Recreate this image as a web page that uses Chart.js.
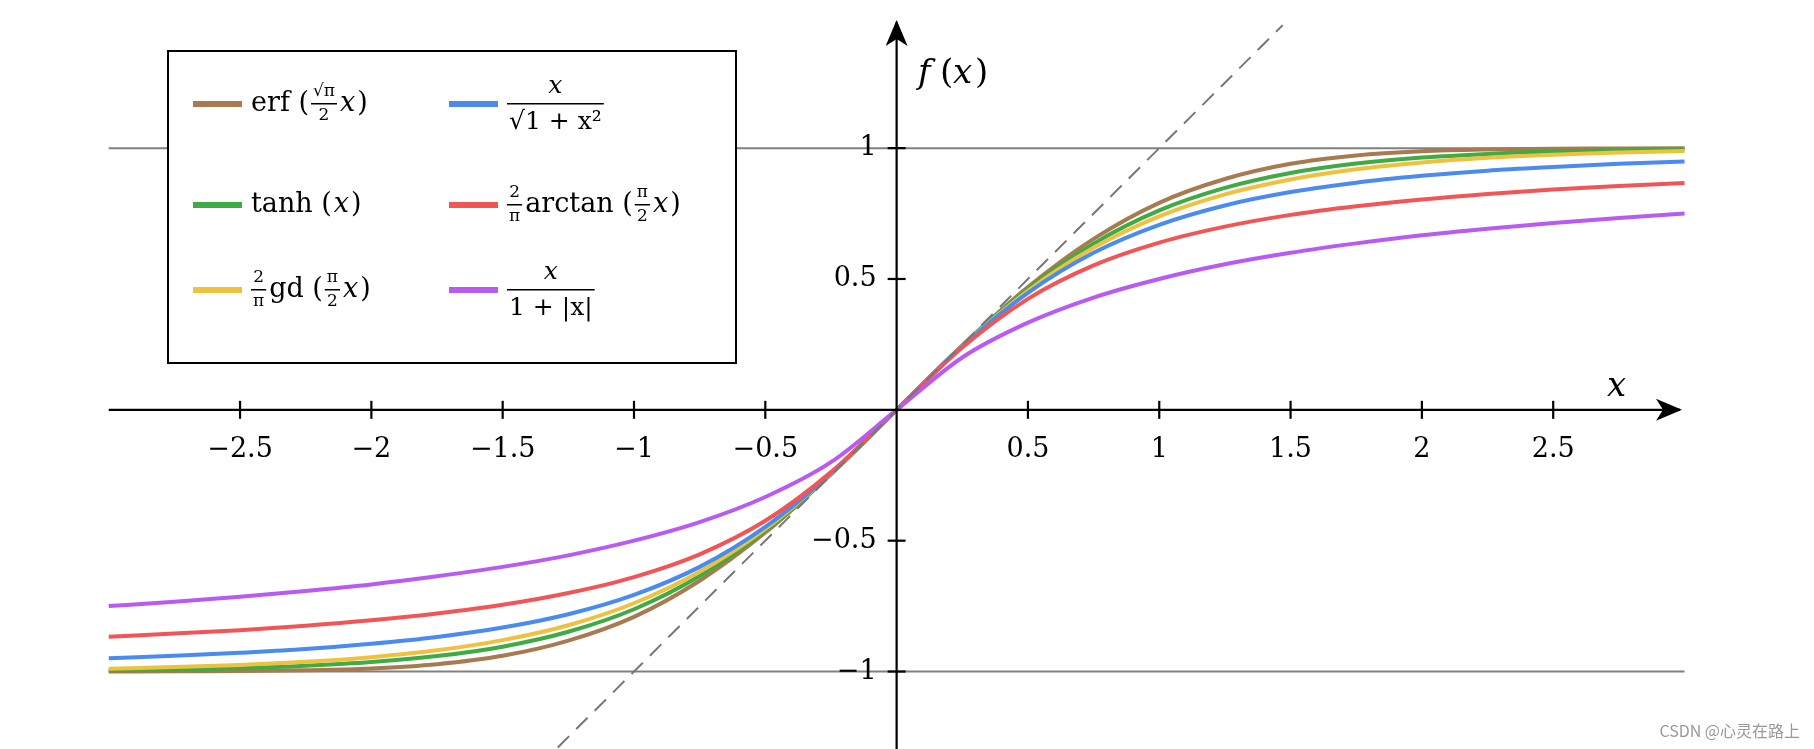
<!DOCTYPE html>
<html>
<head>
<meta charset="utf-8">
<script src="https://cdn.jsdelivr.net/npm/chart.js@4"></script>
<style>
  html, body { margin: 0; padding: 0; background: #fff; }
  #wrap { width: 1814px; height: 749px; position: relative; }
</style>
</head>
<body>
<div id="wrap"><canvas id="c" width="1814" height="749"></canvas></div>
<script>
// x positions of the sampled points
const xs = [-3, -2.75, -2.5, -2.25, -2, -1.75, -1.5, -1.25, -1, -0.75, -0.5, -0.25, 0,
            0.25, 0.5, 0.75, 1, 1.25, 1.5, 1.75, 2, 2.25, 2.5, 2.75, 3];

// values
const erfVals = [-1.0, -0.999, -0.998, -0.995, -0.988, -0.972, -0.94, -0.882, -0.791, -0.653, -0.469, -0.246, 0,
                 0.246, 0.469, 0.653, 0.791, 0.882, 0.94, 0.972, 0.988, 0.995, 0.998, 0.999, 1.0];
const tanhVals = [-0.995, -0.992, -0.987, -0.978, -0.964, -0.941, -0.905, -0.848, -0.762, -0.635, -0.462, -0.245, 0,
                  0.245, 0.462, 0.635, 0.762, 0.848, 0.905, 0.941, 0.964, 0.978, 0.987, 0.992, 0.995];
const gdVals = [-0.989, -0.983, -0.975, -0.963, -0.945, -0.919, -0.88, -0.823, -0.739, -0.619, -0.455, -0.244, 0,
                0.244, 0.455, 0.619, 0.739, 0.823, 0.88, 0.919, 0.945, 0.963, 0.975, 0.983, 0.989];
const sqrtVals = [-0.949, -0.94, -0.928, -0.914, -0.894, -0.868, -0.832, -0.781, -0.707, -0.6, -0.447, -0.243, 0,
                  0.243, 0.447, 0.6, 0.707, 0.781, 0.832, 0.868, 0.894, 0.914, 0.928, 0.94, 0.949];
const atanVals = [-0.867, -0.855, -0.842, -0.825, -0.804, -0.778, -0.745, -0.7, -0.639, -0.552, -0.424, -0.238, 0,
                  0.238, 0.424, 0.552, 0.639, 0.7, 0.745, 0.778, 0.804, 0.825, 0.842, 0.855, 0.867];
const softVals = [-0.75, -0.733, -0.714, -0.692, -0.667, -0.636, -0.6, -0.556, -0.5, -0.429, -0.333, -0.2, 0,
                  0.2, 0.333, 0.429, 0.5, 0.556, 0.6, 0.636, 0.667, 0.692, 0.714, 0.733, 0.75];

const diagX = [-1.29, 1.47];
const xTicks = [-2.5, -2, -1.5, -1, -0.5, 0.5, 1, 1.5, 2, 2.5];
const xTickLabels = ['−2.5', '−2', '−1.5', '−1', '−0.5', '0.5', '1', '1.5', '2', '2.5'];
const yTicks = [-1, -0.5, 0.5, 1];
const yTickLabels = ['−1', '−0.5', '0.5', '1'];

const colors = {
  erf: '#a97a4f', tanh: '#3fab45', gd: '#f0c13f',
  sqrt: '#4a8bf0', atan: '#f25555', soft: '#b95af2'
};

const SERIF = '"DejaVu Serif", "Liberation Serif", serif';

function series(vals, color) {
  return {
    data: xs.map((x, i) => ({ x: x, y: vals[i] })),
    borderColor: color, borderWidth: 4, pointRadius: 0,
    cubicInterpolationMode: 'monotone', fill: false
  };
}

const legendItems = [
  { color: colors.erf, col: 0, row: 0, parts: [{ t: 'erf (' }, { f: ['√π', '2'] }, { t: 'x', i: true }, { t: ')' }] },
  { color: colors.sqrt, col: 1, row: 0, parts: [{ f: ['x', '√1 + x²'], big: true }] },
  { color: colors.tanh, col: 0, row: 1, parts: [{ t: 'tanh (' }, { t: 'x', i: true }, { t: ')' }] },
  { color: colors.atan, col: 1, row: 1, parts: [{ f: ['2', 'π'] }, { t: 'arctan (' }, { f: ['π', '2'] }, { t: 'x', i: true }, { t: ')' }] },
  { color: colors.gd, col: 0, row: 2, parts: [{ f: ['2', 'π'] }, { t: 'gd (' }, { f: ['π', '2'] }, { t: 'x', i: true }, { t: ')' }] },
  { color: colors.soft, col: 1, row: 2, parts: [{ f: ['x', '1 + |x|'], big: true }] }
];

function drawParts(ctx, parts, x, y) {
  ctx.textBaseline = 'middle';
  parts.forEach(p => {
    if (p.t !== undefined) {
      ctx.font = (p.i ? 'italic ' : '') + '27px ' + SERIF;
      ctx.textAlign = 'left';
      ctx.fillText(p.t, x, y);
      x += ctx.measureText(p.t).width + 2;
    } else {
      const size = p.big ? 25 : 17;
      const off = p.big ? 18 : 12;
      ctx.font = size + 'px ' + SERIF;
      const w = Math.max(ctx.measureText(p.f[0]).width, ctx.measureText(p.f[1]).width) + 4;
      ctx.textAlign = 'center';
      ctx.font = (p.f[0] === 'x' ? 'italic ' : '') + size + 'px ' + SERIF;
      ctx.fillText(p.f[0], x + w / 2, y - off);
      ctx.font = size + 'px ' + SERIF;
      ctx.fillText(p.f[1], x + w / 2, y + off);
      ctx.fillRect(x, y - 1, w, 1.5);
      x += w + 3;
    }
  });
}

function arrow(ctx, x, y, dir) {
  ctx.beginPath();
  if (dir === 'right') {
    ctx.moveTo(x, y); ctx.lineTo(x - 26, y - 11); ctx.lineTo(x - 19, y); ctx.lineTo(x - 26, y + 11);
  } else {
    ctx.moveTo(x, y); ctx.lineTo(x - 11, y + 26); ctx.lineTo(x, y + 19); ctx.lineTo(x + 11, y + 26);
  }
  ctx.closePath();
  ctx.fill();
}

const axesPlugin = {
  id: 'axes',
  beforeDatasetsDraw(chart) {
    const ctx = chart.ctx, xs_ = chart.scales.x, ys_ = chart.scales.y;
    ctx.save();
    ctx.strokeStyle = '#808080';
    ctx.lineWidth = 2;
    [1, -1].forEach(v => {
      ctx.beginPath();
      ctx.moveTo(xs_.getPixelForValue(-3), ys_.getPixelForValue(v));
      ctx.lineTo(xs_.getPixelForValue(3), ys_.getPixelForValue(v));
      ctx.stroke();
    });
    ctx.restore();
  },
  afterDatasetsDraw(chart) {
    const ctx = chart.ctx, sx = chart.scales.x, sy = chart.scales.y;
    const x0 = sx.getPixelForValue(0), y0 = sy.getPixelForValue(0);
    ctx.save();
    ctx.strokeStyle = '#000';
    ctx.fillStyle = '#000';
    ctx.lineWidth = 2.2;
    ctx.beginPath();
    ctx.moveTo(sx.getPixelForValue(-3), y0); ctx.lineTo(1680, y0);
    ctx.moveTo(x0, chart.height); ctx.lineTo(x0, 22);
    ctx.stroke();
    arrow(ctx, 1682, y0, 'right');
    arrow(ctx, x0, 20, 'up');

    ctx.font = '27px ' + SERIF;
    ctx.textAlign = 'center';
    ctx.textBaseline = 'top';
    xTicks.forEach((v, i) => {
      const px = sx.getPixelForValue(v);
      ctx.beginPath(); ctx.moveTo(px, y0 - 9); ctx.lineTo(px, y0 + 9); ctx.stroke();
      ctx.fillText(xTickLabels[i], px, y0 + 27);
    });
    ctx.textAlign = 'right';
    ctx.textBaseline = 'middle';
    yTicks.forEach((v, i) => {
      const py = sy.getPixelForValue(v);
      ctx.beginPath(); ctx.moveTo(x0 - 9, py); ctx.lineTo(x0 + 9, py); ctx.stroke();
      ctx.fillText(yTickLabels[i], x0 - 20, py);
    });

    ctx.font = 'italic 34px ' + SERIF;
    ctx.textAlign = 'left';
    ctx.fillText('x', 1607, 387);
    ctx.fillText('f', 918, 74);
    ctx.font = '34px ' + SERIF;
    ctx.fillText('(', 940, 74);
    ctx.font = 'italic 34px ' + SERIF;
    ctx.fillText('x', 953, 74);
    ctx.font = '34px ' + SERIF;
    ctx.fillText(')', 975, 74);

    // legend box
    ctx.fillStyle = '#fff';
    ctx.fillRect(168, 51, 568, 312);
    ctx.lineWidth = 2;
    ctx.strokeRect(168, 51, 568, 312);
    const rowY = [104, 205, 290];
    const colX = [193, 449];
    legendItems.forEach(it => {
      const lx = colX[it.col], ly = rowY[it.row];
      ctx.strokeStyle = it.color;
      ctx.lineWidth = 6;
      ctx.beginPath(); ctx.moveTo(lx, ly); ctx.lineTo(lx + 49, ly); ctx.stroke();
      ctx.fillStyle = '#000';
      drawParts(ctx, it.parts, lx + 58, ly);
    });

    ctx.fillStyle = '#999';
    ctx.font = '16px "Noto Sans CJK SC", sans-serif';
    ctx.textAlign = 'right';
    ctx.textBaseline = 'alphabetic';
    ctx.fillText('CSDN @心灵在路上', 1800, 737);
    ctx.restore();
  }
};

new Chart(document.getElementById('c').getContext('2d'), {
  type: 'line',
  data: {
    datasets: [
      {
        data: diagX.map(v => ({ x: v, y: v })),
        borderColor: '#777', borderWidth: 2, borderDash: [16, 10], pointRadius: 0
      },
      series(softVals, colors.soft),
      series(atanVals, colors.atan),
      series(sqrtVals, colors.sqrt),
      series(gdVals, colors.gd),
      series(tanhVals, colors.tanh),
      series(erfVals, colors.erf)
    ]
  },
  options: {
    responsive: false,
    animation: false,
    layout: { padding: 0 },
    plugins: { legend: { display: false }, tooltip: { enabled: false } },
    scales: {
      x: { type: 'linear', min: -3.414, max: 3.493, display: false },
      y: { type: 'linear', min: -1.296, max: 1.566, display: false }
    }
  },
  plugins: [axesPlugin]
});
</script>
</body>
</html>
